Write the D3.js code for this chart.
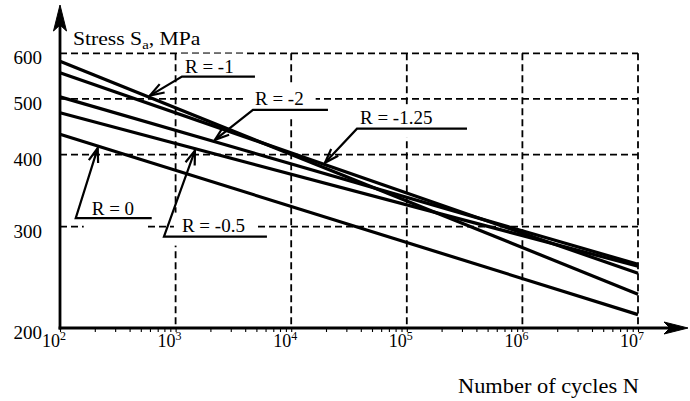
<!DOCTYPE html>
<html>
<head>
<meta charset="utf-8">
<script src="https://cdn.jsdelivr.net/npm/d3@7"></script>
<style>
  body { margin: 0; background: #fff; }
  svg, svg text { font-family: "Liberation Serif", "Times New Roman", "DejaVu Serif", serif !important; }
  svg text { fill: #000; }
</style>
</head>
<body>
<div id="chart"></div>
<script>
// values (S-N lines, log-log, straight between the two ends)
const cycles = [1e2, 1e7];
const rLabels = ["R = -1", "R = -1.25", "R = -2", "R = -0.5", "R = 0"];
const stressStart = [581, 555, 504, 473, 434];   // MPa at 10^2 cycles
const stressEnd = [229, 249, 258, 256, 211];     // MPa at 10^7 cycles
const yTicks = [200, 300, 400, 500, 600];
const xDecades = [1e2, 1e3, 1e4, 1e5, 1e6, 1e7];
// where each label arrow touches its line (cycles)
const arrowAt = [600, 19600, 2190, 1470, 212];

var width = 690, height = 401;
var serif = "'Liberation Serif', 'Times New Roman', 'DejaVu Serif', serif";

var svg = d3.select("#chart")
  .append("svg")
    .attr("width", width)
    .attr("height", height)
    .style("font-family", serif);

var x = d3.scaleLog().domain([1e2, 1e7]).range([60, 638]);
var y = d3.scaleLog().domain([200, 600]).range([328, 53.3]);

var series = rLabels.map(function(r, i) {
  return { r: r, pts: cycles.map(function(n, j) { return { n: n, s: j == 0 ? stressStart[i] : stressEnd[i] }; }) };
});

// grid (dashed box + inner lines)
var grid = svg.append("g")
  .attr("stroke", "#000")
  .attr("stroke-width", 1.8)
  .attr("stroke-dasharray", "7,4");

grid.selectAll(".hg")
  .data(yTicks.slice(1))
  .enter().append("line")
    .attr("x1", x(1e2)).attr("x2", x(1e7))
    .attr("y1", function(d) { return y(d); })
    .attr("y2", function(d) { return y(d); });

grid.selectAll(".vg")
  .data(xDecades.slice(1))
  .enter().append("line")
    .attr("x1", function(d) { return x(d); })
    .attr("x2", function(d) { return x(d); })
    .attr("y1", y(600)).attr("y2", y(200));

// label annotation layout: elbow offset from tip, underline length, text offset
var notes = [
  { dx: 32, dy: -19, len: 73, tx: 3, ty: -4, side: -1 },
  { dx: 32, dy: -34, len: 110, tx: 3, ty: -5, side: -1 },
  { dx: 38, dy: -30, len: 75, tx: 2, ty: -5, side: -1 },
  { dx: -31, dy: 86, len: 103, tx: 18, ty: -5, side: 1 },
  { dx: -22, dy: 70, len: 76, tx: 16, ty: -3, side: 1 }
];

function lineY(i, n) {
  var p = series[i].pts;
  var t = (x(n) - x(p[0].n)) / (x(p[1].n) - x(p[0].n));
  return y(p[0].s) + t * (y(p[1].s) - y(p[0].s));
}

var boxes = svg.append("g");
var lines = svg.append("g");
var notesG = svg.append("g");

var line = d3.line()
  .x(function(d) { return x(d.n); })
  .y(function(d) { return y(d.s); });

lines.selectAll("path")
  .data(series)
  .enter().append("path")
    .attr("d", function(d) { return line(d.pts); })
    .attr("fill", "none")
    .attr("stroke", "#000")
    .attr("stroke-width", 3.2);

notes.forEach(function(o, i) {
  var tx = x(arrowAt[i]);
  var ty = lineY(i, arrowAt[i]) + o.side * 2;
  var ex = tx + o.dx, ey = ty + o.dy;

  var t = notesG.append("text")
    .attr("x", ex + o.tx)
    .attr("y", ey + o.ty)
    .attr("font-size", 19)
    .text(rLabels[i]);
  var bb = t.node().getBBox();
  boxes.append("rect")
    .attr("x", bb.x - 8).attr("y", bb.y - 2)
    .attr("width", bb.width + 20).attr("height", bb.height + 12)
    .attr("fill", "#fff");

  notesG.append("path")
    .attr("d", "M" + tx + "," + ty + "L" + ex + "," + ey + "L" + (ex + o.len) + "," + ey)
    .attr("fill", "none")
    .attr("stroke", "#000")
    .attr("stroke-width", 2.2);

  // open arrow head
  var a = Math.atan2(ey - ty, ex - tx), L = 15, w = 0.33;
  notesG.append("path")
    .attr("d", "M" + (tx + L * Math.cos(a - w)) + "," + (ty + L * Math.sin(a - w)) +
               "L" + tx + "," + ty +
               "L" + (tx + L * Math.cos(a + w)) + "," + (ty + L * Math.sin(a + w)))
    .attr("fill", "none")
    .attr("stroke", "#000")
    .attr("stroke-width", 2.2);
});

// x ticks (minor + major) below axis
var xTickVals = [];
xDecades.forEach(function(d) {
  for (var k = 1; k < 10; k++) if (d * k <= 1e7) xTickVals.push(d * k);
});

svg.append("g")
  .attr("transform", "translate(0," + y(200) + ")")
  .call(d3.axisBottom(x).tickValues(xTickVals).tickSize(4).tickFormat(""))
  .call(function(g) { g.select(".domain").remove(); })
  .selectAll("line").attr("stroke", "#000").attr("stroke-width", 1.1);

svg.append("g")
  .attr("transform", "translate(" + x(1e2) + ",0)")
  .call(d3.axisLeft(y).tickValues(yTicks).tickSize(0).tickPadding(18).tickFormat(d3.format("d")))
  .attr("font-family", serif)
  .attr("font-size", 19)
  .call(function(g) { g.select(".domain").remove(); })
  .selectAll("text")
    .attr("dy", "0.55em");

// x decade labels 10^n
var xl = svg.append("g").selectAll("text")
  .data(xDecades)
  .enter().append("text")
    .attr("x", function(d) { return x(d) - 18; })
    .attr("y", 347)
    .attr("font-size", 18);
xl.append("tspan").text("10");
xl.append("tspan")
  .attr("font-size", 12)
  .attr("dy", -7)
  .text(function(d) { return Math.round(Math.log10(d)); });

// axes with arrows
svg.append("line")
  .attr("x1", x(1e2)).attr("x2", x(1e2))
  .attr("y1", y(200) + 1.5).attr("y2", 22)
  .attr("stroke", "#000").attr("stroke-width", 2.8);
svg.append("path")
  .attr("d", "M60,5L66.5,31L60,25L53.5,31Z")
  .attr("fill", "#000").attr("stroke", "#000").attr("stroke-width", 1);

svg.append("line")
  .attr("x1", x(1e2) - 1.4).attr("x2", 676)
  .attr("y1", y(200)).attr("y2", y(200))
  .attr("stroke", "#000").attr("stroke-width", 2.8);
svg.append("path")
  .attr("d", "M688," + y(200) + "L664," + (y(200) - 6) + "L670," + y(200) + "L664," + (y(200) + 6) + "Z")
  .attr("fill", "#000").attr("stroke", "#000").attr("stroke-width", 1);

// axis titles (source is a little stretched sideways)
var yt = svg.append("text")
  .attr("transform", "translate(73,45) scale(1.14,1)")
  .attr("font-size", 19);
yt.append("tspan").text("Stress S");
yt.append("tspan").attr("font-size", 13).attr("dy", 4).text("a");
yt.append("tspan").attr("dy", -4).text(", MPa");

svg.append("text")
  .attr("transform", "translate(458,393) scale(1.12,1)")
  .attr("font-size", 20)
  .text("Number of cycles N");
</script>
</body>
</html>
